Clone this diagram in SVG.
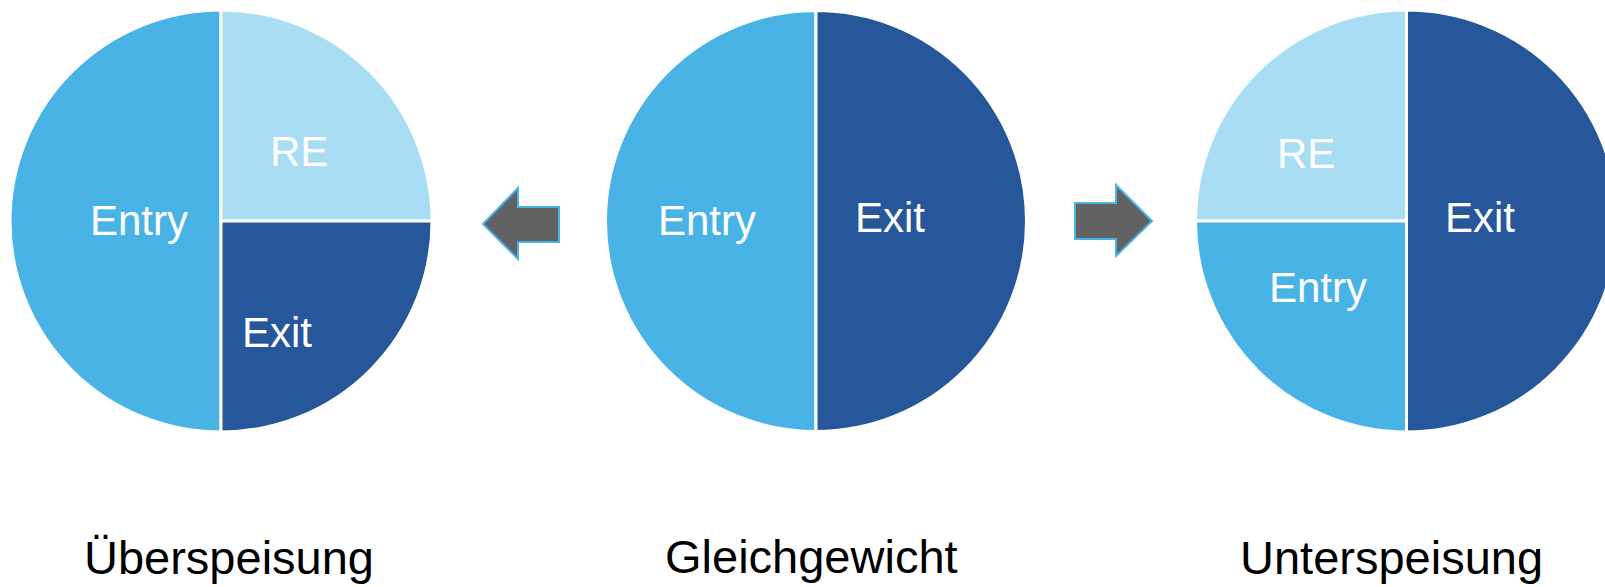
<svg xmlns="http://www.w3.org/2000/svg" width="1605" height="587" viewBox="0 0 1605 587">
<style>
.mid{fill:#4AB3E6;stroke:#fff;stroke-width:3}
.pale{fill:#A8DDF4;stroke:#fff;stroke-width:3}
.dark{fill:#27579B;stroke:#fff;stroke-width:3}
.lbl{font-family:"Liberation Sans",Arial,sans-serif;font-size:42px;fill:#fff}
.cap{font-family:"Liberation Sans",Arial,sans-serif;font-size:47px;fill:#000}
.arrow{fill:#626262;stroke:#4AB3E6;stroke-width:2}
</style>
<rect width="1605" height="587" fill="#fff"/>
<g id="ueberspeisung">
<path class="mid" d="M221,10 A211,211 0 0 0 221,432 Z"/>
<path class="pale" d="M221,221 L221,10 A211,211 0 0 1 432,221 Z"/>
<path class="dark" d="M221,221 L432,221 A211,211 0 0 1 221,432 Z"/>
<text class="lbl" x="90" y="235">Entry</text>
<text class="lbl" x="270" y="166">RE</text>
<text class="lbl" x="242" y="347">Exit</text>
<text class="cap" x="84" y="574">Überspeisung</text>
</g>
<g id="gleichgewicht">
<path class="mid" d="M816,10.5 A210.5,210.5 0 0 0 816,431.5 Z"/>
<path class="dark" d="M816,10.5 A210.5,210.5 0 0 1 816,431.5 Z"/>
<text class="lbl" x="658" y="235">Entry</text>
<text class="lbl" x="855" y="232">Exit</text>
<text class="cap" x="665" y="573">Gleichgewicht</text>
</g>
<g id="unterspeisung">
<path class="pale" d="M1406.5,221 L1195.5,221 A211,211 0 0 1 1406.5,10 Z"/>
<path class="mid" d="M1406.5,221 L1406.5,432 A211,211 0 0 1 1195.5,221 Z"/>
<path class="dark" d="M1406.5,10 A211,211 0 0 1 1406.5,432 Z"/>
<text class="lbl" x="1277" y="168">RE</text>
<text class="lbl" x="1445" y="232">Exit</text>
<text class="lbl" x="1269" y="302">Entry</text>
<text class="cap" x="1240" y="574">Unterspeisung</text>
</g>
<g id="connectors">
<polygon class="arrow" points="483,224 518,188 518,207 559,207 559,242 518,242 518,259"/>
<polygon class="arrow" points="1075,203 1116,203 1116,185 1152,221 1116,256 1116,239 1075,239"/>
</g>
</svg>
